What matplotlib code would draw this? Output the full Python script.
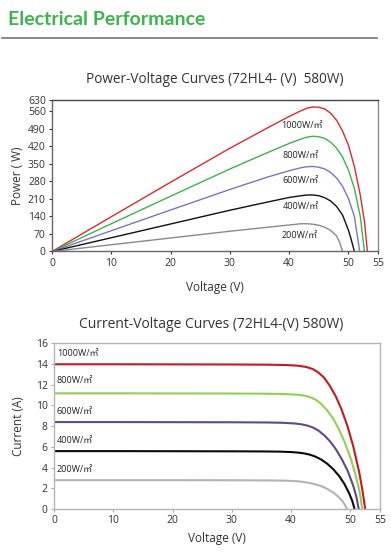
import matplotlib.pyplot as plt

plt.rcParams['font.family'] = ['Open Sans', 'DejaVu Sans', 'Noto Sans CJK SC']

# irradiance levels
levels = ['1000W/㎡', '800W/㎡', '600W/㎡', '400W/㎡', '200W/㎡']

# Power-Voltage curves
pv_v = [
    [0, 10, 20, 30, 36, 40, 42, 43, 44, 45, 46, 47, 48, 49, 50, 51, 52, 52.7, 53.2],
    [0, 10, 20, 30, 36, 40, 42, 43, 44, 45, 46, 47, 48, 49, 50, 51, 52, 52.7],
    [0, 10, 20, 30, 36, 40, 42, 43, 44, 45, 46, 47, 48, 49, 50, 51, 51.9],
    [0, 10, 20, 30, 36, 40, 42, 43, 44, 45, 46, 47, 48, 49, 50, 50.5, 51.0],
    [0, 10, 20, 30, 36, 40, 42, 43, 44, 45, 46, 47, 48, 48.5, 49.0],
]
pv_p = [
    [0, 139, 277, 413, 490, 540, 563, 573, 578, 577, 570, 553, 525, 482, 425, 340, 225, 120, 0],
    [0, 111, 221, 330, 392, 432, 450, 457, 461, 459, 452, 437, 413, 378, 326, 252, 140, 0],
    [0, 83, 166, 248, 295, 323, 335, 339, 340, 337, 330, 316, 294, 261, 212, 140, 0],
    [0, 55, 110, 165, 196, 216, 223, 226, 226, 223, 215, 202, 180, 146, 85, 45, 0],
    [0, 27, 54, 81, 96, 106, 111, 111, 109, 105, 97, 84, 62, 38, 0],
]
pv_colors = ['#e0282e', '#3cb44b', '#7b74c2', '#111111', '#8a8a8a']
pv_lbl_v = [42.2, 42.0, 42.0, 42.0, 41.7]
pv_lbl_p = [504, 384, 283, 180, 63]

# Current-Voltage curves
iv_v = [
    [0, 10, 20, 30, 36, 39, 41, 42.5, 43.6, 44.5, 45.5, 46.5, 47.5, 48.5, 49.5, 50.5, 51.5, 52, 52.5],
    [0, 10, 20, 30, 36, 39, 41, 42.3, 43.3, 44.2, 45.1, 46.1, 47.1, 48.1, 49.1, 50.1, 51.1, 51.6, 52.0],
    [0, 10, 20, 30, 36, 38.5, 40.5, 41.8, 42.8, 43.7, 44.6, 45.6, 46.6, 47.6, 48.6, 49.6, 50.5, 51.0, 51.4],
    [0, 10, 20, 30, 35, 38, 40, 41.3, 42.3, 43.2, 44.1, 45.1, 46.1, 47.1, 48.1, 49.0, 49.8, 50.3, 50.7],
    [0, 10, 20, 30, 34, 37, 39, 40.3, 41.3, 42.2, 43.1, 44.1, 45.1, 46.1, 47.1, 48.0, 48.7, 49.1, 49.4],
]
iv_i = [
    [13.95, 13.95, 13.94, 13.93, 13.91, 13.88, 13.82, 13.7, 13.5, 13.2, 12.7, 11.9, 10.9, 9.6, 8.0, 6.0, 3.5, 1.9, 0],
    [11.15, 11.15, 11.14, 11.13, 11.11, 11.08, 11.02, 10.92, 10.76, 10.52, 10.12, 9.5, 8.7, 7.65, 6.35, 4.8, 2.8, 1.5, 0],
    [8.38, 8.38, 8.37, 8.36, 8.34, 8.31, 8.25, 8.16, 8.03, 7.85, 7.56, 7.1, 6.5, 5.72, 4.75, 3.6, 2.2, 1.2, 0],
    [5.58, 5.58, 5.57, 5.56, 5.55, 5.53, 5.49, 5.43, 5.35, 5.23, 5.05, 4.76, 4.36, 3.84, 3.18, 2.4, 1.5, 0.8, 0],
    [2.78, 2.78, 2.78, 2.77, 2.76, 2.75, 2.73, 2.7, 2.66, 2.6, 2.51, 2.38, 2.2, 1.94, 1.6, 1.16, 0.72, 0.38, 0],
]
iv_colors = ['#c41a1f', '#92d050', '#5d4a8c', '#0a0a0a', '#b3b3b3']
iv_lbl_i = [14.95, 12.4, 9.36, 6.62, 3.8]

fig = plt.figure(figsize=(3.91, 5.58), dpi=100)

# header
fig.text(0.02, 0.965, 'Electrical Performance', color='#3db54d', fontsize=14,
         fontweight='bold', va='center', ha='left', family=['Lato', 'DejaVu Sans'])
fig.add_artist(plt.Line2D([2 / 391, 377 / 391], [1 - 37.5 / 558] * 2,
                          color='#7f7f7f', lw=1.3))

# ---- Power-Voltage
ax1 = fig.add_axes([0.133, 0.5493, 0.834, 0.2720])
for v, p, c in zip(pv_v, pv_p, pv_colors):
    ax1.plot(v, p, color=c, lw=1.0)
for lab, x, y in zip(levels, pv_lbl_v, pv_lbl_p):
    ax1.text(x, y, lab, fontsize=6.5, ha='center', va='center', color='#222222')
ax1.set_xlim(0, 55)
ax1.set_ylim(0, 607)
ax1.set_xticks([0, 10, 20, 30, 40, 50, 55])
ax1.set_yticks([0, 70, 140, 210, 280, 350, 420, 490, 560, 607])
ax1.set_yticklabels(['0', '70', '140', '210', '280', '350', '420', '490', '560', '630'])
ax1.tick_params(labelsize=7.5, length=2.5, width=0.8, pad=2, colors='#333333')
ax1.spines['left'].set_color('#666666')
ax1.spines['bottom'].set_color('#666666')
ax1.spines['top'].set_color('#444444')
ax1.spines['right'].set_color('#8a8a8a')
for s in ax1.spines.values():
    s.set_linewidth(1.0)
ax1.set_xlabel('Voltage (V)', fontsize=8.5, color='#333333', labelpad=9)
ax1.set_ylabel('Power ( W)', fontsize=8.5, color='#333333', labelpad=3)
fig.text(0.55, 0.858, 'Power-Voltage Curves (72HL4- (V)  580W)', fontsize=9.8,
         ha='center', va='center', color='#333333')

# ---- Current-Voltage
ax2 = fig.add_axes([0.138, 0.0878, 0.834, 0.2975])
for v, i, c in zip(iv_v, iv_i, iv_colors):
    ax2.plot(v, i, color=c, lw=1.5)
for lab, y in zip(levels, iv_lbl_i):
    ax2.text(0.5, y, lab, fontsize=6.5, ha='left', va='center', color='#222222')
ax2.set_xlim(0, 55)
ax2.set_ylim(0, 16)
ax2.set_xticks([0, 10, 20, 30, 40, 50, 55])
ax2.set_yticks(range(0, 17, 2))
ax2.tick_params(labelsize=7.5, length=2.5, width=0.8, pad=2, colors='#333333')
ax2.tick_params(color='#aaaaaa')
for s in ax2.spines.values():
    s.set_color('#b5b5b5')
    s.set_linewidth(1.0)
ax2.set_xlabel('Voltage (V)', fontsize=8.5, color='#333333', labelpad=4)
ax2.set_ylabel('Current (A)', fontsize=8.5, color='#333333', labelpad=8)
fig.text(0.539, 0.4176, 'Current-Voltage Curves (72HL4-(V) 580W)', fontsize=10,
         ha='center', va='center', color='#333333')

fig.savefig('out.png', dpi=100)
